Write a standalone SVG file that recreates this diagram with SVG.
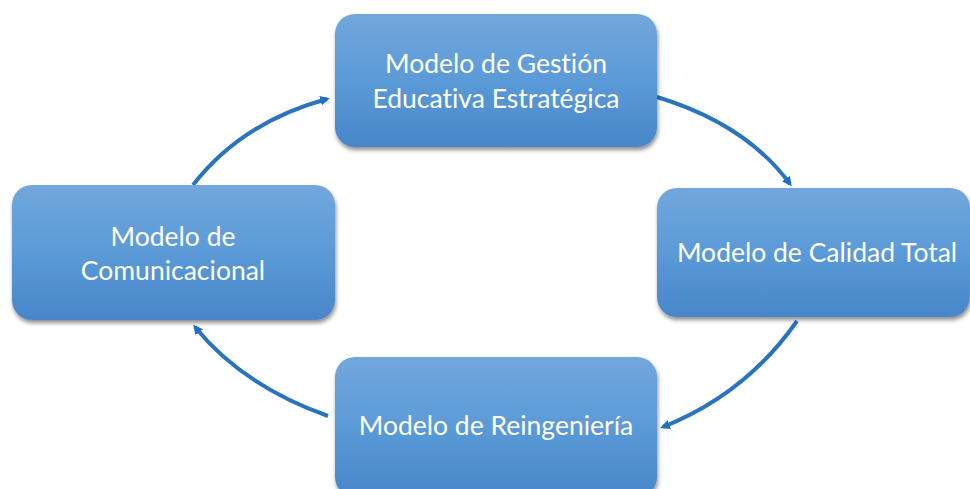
<svg xmlns="http://www.w3.org/2000/svg" width="970" height="489" viewBox="0 0 970 489">
  <defs>
    <linearGradient id="g" x1="0" y1="0" x2="0" y2="1">
      <stop offset="0" stop-color="#72a7dc"/>
      <stop offset="0.5" stop-color="#5b9ad8"/>
      <stop offset="1" stop-color="#4886c9"/>
    </linearGradient>
    <filter id="sh" x="-10%" y="-10%" width="120%" height="130%">
      <feGaussianBlur in="SourceAlpha" stdDeviation="2"/>
      <feOffset dx="1" dy="3" result="b"/>
      <feComponentTransfer><feFuncA type="linear" slope="0.45"/></feComponentTransfer>
      <feMerge><feMergeNode/><feMergeNode in="SourceGraphic"/></feMerge>
    </filter>
    <marker id="ah" viewBox="0 0 10 10" refX="7" refY="5" markerWidth="2.4" markerHeight="2.4" orient="auto" markerUnits="strokeWidth">
      <path d="M0,0 L10,5 L0,10 z" fill="#1f70c1"/>
    </marker>
  </defs>
  <style>
    .box { fill: url(#g); filter: url(#sh); }
    .lbl { font-family: Lato, "Open Sans", "Liberation Sans", sans-serif; font-size: 26.5px; fill: #ffffff; text-anchor: middle; font-variant-ligatures: none; font-feature-settings: "liga" 0, "dlig" 0; }
    .con { fill: none; stroke: #2a74bf; stroke-width: 4; marker-end: url(#ah); }
  </style>
  <rect width="970" height="489" fill="#ffffff"/>
  <g id="connectors">
    <path class="con" d="M193,185 Q242,122 327,99"/>
    <path class="con" d="M657,97 Q746,124 790,184"/>
    <path class="con" d="M797,321 Q746,394 663,427"/>
    <path class="con" d="M328,416 Q243,386 195,327"/>
  </g>
  <g id="node-gestion">
    <rect class="box" x="335" y="14" width="322" height="133" rx="20"/>
    <text class="lbl" x="496" y="73">Modelo de Gestión</text>
    <text class="lbl" x="496" y="108">Educativa Estratégica</text>
  </g>
  <g id="node-calidad">
    <rect class="box" x="657" y="188" width="313" height="129" rx="20"/>
    <text class="lbl" x="817" y="262">Modelo de Calidad Total</text>
  </g>
  <g id="node-reingenieria">
    <rect class="box" x="335" y="357" width="322" height="140" rx="20"/>
    <text class="lbl" x="496" y="435">Modelo de Reingeniería</text>
  </g>
  <g id="node-comunicacional">
    <rect class="box" x="12" y="185" width="323" height="135" rx="20"/>
    <text class="lbl" x="173" y="246">Modelo de</text>
    <text class="lbl" x="173" y="280">Comunicacional</text>
  </g>
</svg>
